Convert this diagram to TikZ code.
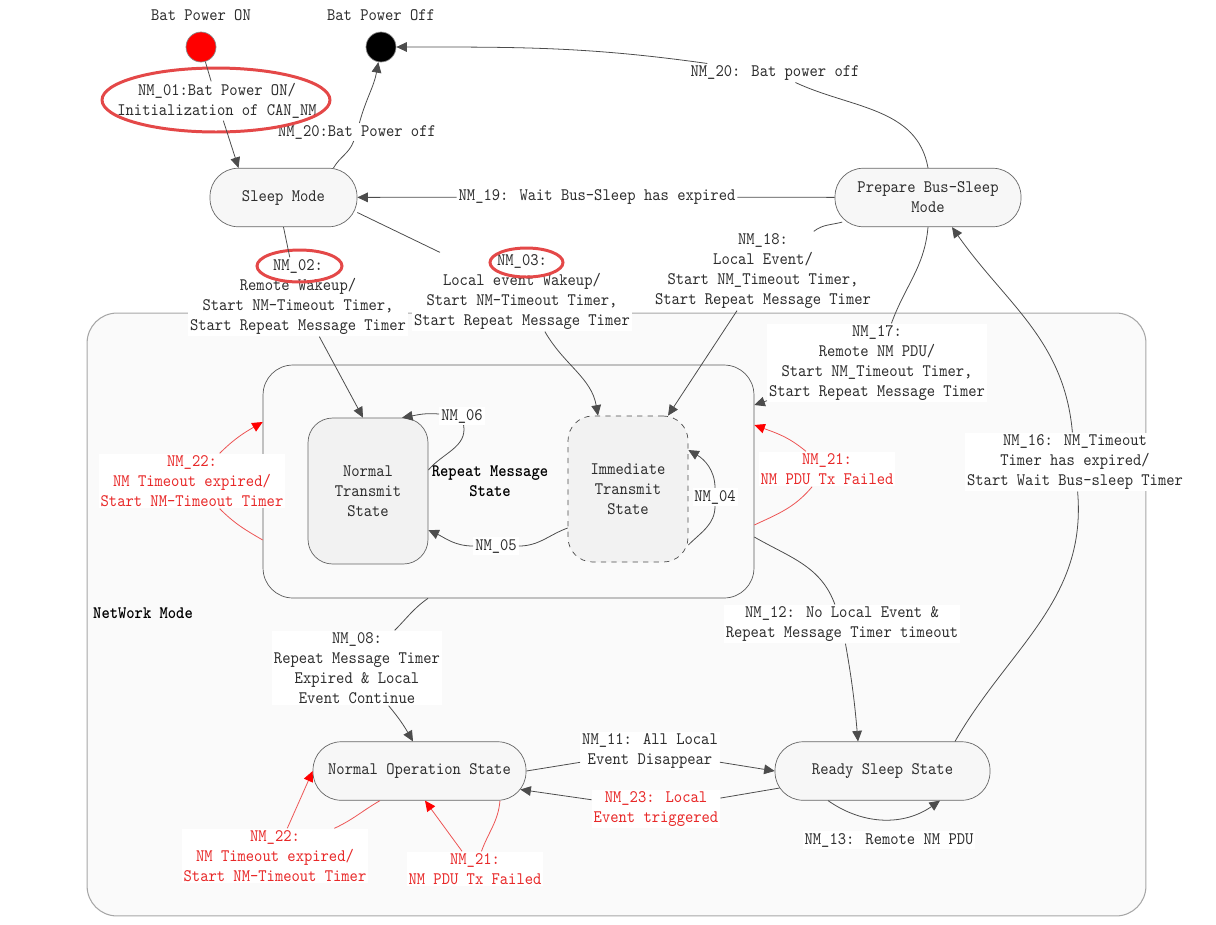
\documentclass[tikz,border=0pt]{standalone}
\usepackage{fontspec}
\usetikzlibrary{arrows.meta,shapes.geometric}
\newfontfamily\simfont[FakeStretch=0.9, BoldFont=lmmonolt10-bold.otf]{lmmono10-regular.otf}
\newcommand\nmfont{\simfont\fontsize{10}{11.4}\selectfont}
\definecolor{nmred}{RGB}{232,40,40}
\definecolor{markred}{RGB}{228,72,72}
\definecolor{nwfill}{RGB}{250,250,250}
\definecolor{stfill}{RGB}{247,247,247}
\definecolor{txtgray}{RGB}{45,45,45}

\begin{document}
\begin{tikzpicture}[x=0.02cm, y=0.02cm,
  every node/.style={font=\nmfont, text=txtgray},
  state/.style={draw=black!60, fill=stfill, rounded corners=16pt,
                minimum height=1.17cm, align=center, inner sep=2pt},
  substate/.style={draw=black!60, fill=black!5, rounded corners=14pt,
                   minimum width=2.4cm, minimum height=2.92cm, align=center},
  endpt/.style={circle, draw=black!45, minimum size=0.6cm, inner sep=0pt},
  lbl/.style={fill=white, inner sep=1pt, align=center},
  redlbl/.style={lbl, text=nmred},
  ringmark/.style={ellipse, draw=markred, line width=1.7pt, inner sep=0pt},
  arr/.style={draw=black!70, line width=0.45pt, -{Triangle[length=6pt,width=5.5pt]}},
  redarr/.style={draw=nmred!80, line width=0.45pt,
                 -{Triangle[length=6pt,width=5.5pt,color=red]}},
]
\useasboundingbox (0,0) rectangle (1216,-924);

% ---- NetWork Mode ----
\node[draw=black!35, fill=nwfill, line width=0.6pt, rounded corners=17pt,
      minimum width=21.18cm, minimum height=12.06cm] (netmode) at (616.5,-614.5) {};
\node[anchor=west, font=\nmfont\bfseries, text=black] (nwtitle) at (87,-613) {NetWork Mode};

% ---- Repeat Message State ----
\node[draw=black!65, fill=black!2, rounded corners=17pt,
      minimum width=9.82cm, minimum height=4.66cm] (rep) at (508.5,-481.5) {};
\node[font=\nmfont\bfseries, text=black, align=center] (reptitle) at (490,-481)
  {Repeat Message\\State};
\node[substate] (ntx) at (368,-491) {Normal\\Transmit\\State};
\node[substate, dashed, draw=black!70] (itx) at (628,-489) {Immediate\\Transmit\\State};

% ---- battery ----
\node[endpt, fill=red] (baton) at (201,-47) {};
\node[endpt, fill=black] (batoff) at (381,-47) {};
\node (batontxt) at (201,-15) {Bat Power ON};
\node (batofftxt) at (381,-15) {Bat Power Off};

% ---- states ----
\node[state, minimum width=2.94cm] (sleep) at (283.5,-197.5) {Sleep Mode};
\node[state, minimum width=3.72cm] (prep) at (928,-197.5) {Prepare Bus-Sleep\\Mode};
\node[state, minimum width=4.26cm] (nop) at (419.5,-771) {Normal Operation State};
\node[state, minimum width=4.3cm] (rsl) at (882.5,-771) {Ready Sleep State};

% ---- transition labels ----
\node[lbl] (l01) at (217,-101) {NM\_01:Bat Power ON/\\Initialization of CAN\_NM};
\node[lbl] (l20a) at (357,-132) {NM\_20:Bat Power off};
\node[lbl] (l20b) at (775,-73) {NM\_20: Bat power off};
\node[lbl] (l19) at (597,-197) {NM\_19: Wait Bus-Sleep has expired};
\node[lbl] (l02) at (298,-297)
  {NM\_02:\\Remote Wakeup/\\Start NM-Timeout Timer,\\Start Repeat Message Timer};
\node[lbl] (l03) at (522,-292)
  {NM\_03:\\Local event Wakeup/\\Start NM-Timeout Timer,\\Start Repeat Message Timer};
\node[lbl] (l18) at (763,-271)
  {NM\_18:\\Local Event/\\Start NM\_Timeout Timer,\\Start Repeat Message Timer};
\node[lbl] (l17) at (877,-363)
  {NM\_17:\\Remote NM PDU/\\Start NM\_Timeout Timer,\\Start Repeat Message Timer};
\node[redlbl] (l21a) at (827,-469) {NM\_21:\\NM PDU Tx Failed};
\node[redlbl] (l22a) at (192,-481) {NM\_22:\\NM Timeout expired/\\Start NM-Timeout Timer};
\node[lbl] (l06) at (462,-416) {NM\_06};
\node[lbl] (l05) at (496,-546) {NM\_05};
\node[lbl] (l04) at (715,-497) {NM\_04};
\node[lbl] (l08) at (357,-668)
  {NM\_08:\\Repeat Message Timer\\Expired \& Local\\Event Continue};
\node[lbl] (l12) at (842,-624) {NM\_12: No Local Event \&\\Repeat Message Timer timeout};
\node[lbl] (l16) at (1075,-462)
  {NM\_16: NM\_Timeout\\Timer has expired/\\Start Wait Bus-sleep Timer};
\node[lbl] (l11) at (650,-751) {NM\_11: All Local\\Event Disappear};
\node[redlbl] (l23) at (656,-809) {NM\_23: Local\\Event triggered};
\node[lbl] (l13) at (889,-840) {NM\_13: Remote NM PDU};
\node[redlbl] (l22b) at (275,-856) {NM\_22:\\NM Timeout expired/\\Start NM-Timeout Timer};
\node[redlbl] (l21b) at (475,-869) {NM\_21:\\NM PDU Tx Failed};

% ---- highlight rings ----
\node[ringmark, minimum width=4.56cm, minimum height=1.28cm] (ring01) at (216,-100) {};
\node[ringmark, minimum width=1.7cm, minimum height=0.64cm] (ring02) at (299.5,-266) {};
\node[ringmark, minimum width=1.46cm, minimum height=0.58cm] (ring03) at (526.5,-262.5) {};

% ---- Connections ----
% power on / off
\draw[arr] (baton) -- (l01) -- ([xshift=-0.9cm]sleep.north);
\draw[arr] ([xshift=1cm]sleep.north) to[out=60,in=-110] (l20a) to[out=75,in=-100] (batoff);
\draw[arr] (prep.north) to[out=100,in=-25] (l20b) to[out=172,in=0] (batoff);
\draw[arr] (prep) -- (l19) -- (sleep);

% wakeup into Repeat Message State
\draw[arr] (sleep.south) -- (l02) -- ([xshift=-0.1cm]ntx.north);
\draw[arr] ([yshift=-0.3cm]sleep.east) -- (l03) to[out=-60,in=100] ([xshift=-0.6cm]itx.north);
\draw[arr] ([xshift=0.15cm,yshift=0.1cm]prep.south west) to[out=195,in=38] (l18)
  -- ([xshift=0.8cm]itx.north);
\draw[arr] (prep.south) to[out=-95,in=70] (l17) -- ([yshift=1.53cm]rep.east);
\draw[redarr] ([yshift=-0.87cm]rep.east) to[out=25,in=-130] (l21a)
  to[out=140,in=-20] ([yshift=1.13cm]rep.east);
\draw[redarr] ([yshift=-1.17cm]rep.west) to[out=150,in=-45] (l22a)
  to[out=45,in=210] ([yshift=1.19cm]rep.west);

% inside Repeat Message State
\draw[arr] ([yshift=0.42cm]ntx.east) to[out=50,in=-80] (l06) to[out=175,in=10] ([xshift=0.68cm]ntx.north);
\draw[arr] ([yshift=-0.78cm]itx.west) to[out=200,in=0] (l05) to[out=180,in=-25] ([yshift=-0.78cm]ntx.east);
\draw[arr] ([yshift=-1.12cm]itx.east) to[out=45,in=-90] (l04) to[out=90,in=-30] ([yshift=0.78cm]itx.east);

% leaving Repeat Message State
\draw[arr] ([xshift=-1.61cm]rep.south) to[out=215,in=45] (l08) to[out=-50,in=120] ([xshift=-0.13cm]nop.north);
\draw[arr] ([yshift=-1.11cm]rep.east) to[out=-30,in=110] (l12) to[out=-80,in=95] ([xshift=-0.49cm]rsl.north);

% Normal Operation / Ready Sleep
\draw[arr] (nop.east) -- (l11) -- (rsl.west);
\draw[arr] ([xshift=0.1cm,yshift=-0.34cm]rsl.west) -- (l23) -- ([xshift=-0.12cm,yshift=-0.37cm]nop.east);
\draw[arr] ([xshift=-1.09cm]rsl.south) to[out=-35,in=-145] ([xshift=1.15cm]rsl.south);
\draw[arr] ([xshift=1.45cm]rsl.north) to[out=60,in=-85] (l16) to[out=95,in=-55] ([xshift=0.48cm]prep.south);
\draw[redarr] ([xshift=-0.79cm]nop.south) to[out=-150,in=25] (l22b) -- (nop.west);
\draw[redarr] ([xshift=1.61cm]nop.south) to[out=-95,in=70] (l21b) -- ([xshift=0.11cm]nop.south);

\end{tikzpicture}
\end{document}
